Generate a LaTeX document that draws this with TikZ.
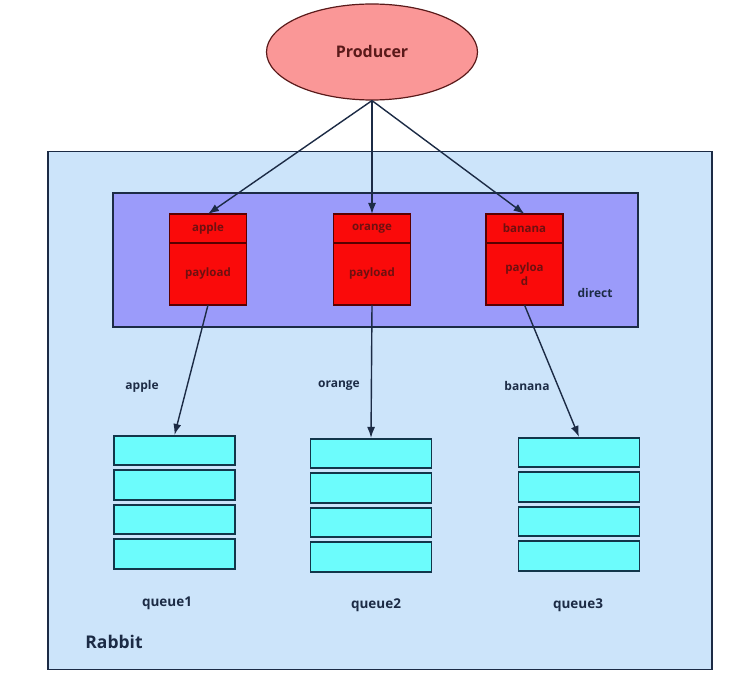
\documentclass[tikz,border=0pt]{standalone}
\usepackage{fontspec}
\setmainfont{Open Sans}
\usepackage{tikz}
\usetikzlibrary{arrows.meta, positioning, shapes.geometric}
\definecolor{navy}{HTML}{1C2B45}
\definecolor{rabbitbg}{HTML}{CCE4FA}
\definecolor{directbg}{HTML}{9B9BFA}
\definecolor{msgred}{HTML}{FA0A0A}
\definecolor{msgtext}{HTML}{6E1010}
\definecolor{prodbg}{HTML}{FA9797}
\definecolor{prodtext}{HTML}{5A1A1A}
\definecolor{qcyan}{HTML}{6CFCFC}
\definecolor{qline}{HTML}{12364A}

\begin{document}
\begin{tikzpicture}[x=1pt, y=-1pt,
      font=\bfseries\fontsize{11.5}{13.5}\selectfont,
      prod/.style={ellipse, draw=prodtext, fill=prodbg, line width=1.2pt,
        minimum width=211pt, minimum height=96pt, inner sep=0pt, text=prodtext,
        font=\bfseries\fontsize{16}{19}\selectfont},
      box/.style={rectangle, draw=navy, line width=1.5pt, minimum width=#1},
      hdr/.style={rectangle, draw=red!35!black, fill=msgred, line width=1.2pt,
        minimum width=77pt, minimum height=29pt, inner sep=0pt, outer sep=0pt,
        text=msgtext},
      body/.style={hdr, minimum height=62pt, align=center},
      qrow/.style={rectangle, draw=qline, fill=qcyan, line width=1.6pt,
        minimum width=121pt, minimum height=29.5pt, inner sep=0pt},
      lbl/.style={text=navy, inner sep=0pt, font=\bfseries\fontsize{12}{14}\selectfont},
      qlbl/.style={lbl, font=\bfseries\fontsize{13.5}{16}\selectfont},
      link/.style={-{Latex[length=11pt,width=8pt]}, line width=1.4pt, draw=navy}
    ]
      \useasboundingbox (0,0) rectangle (744,676);
      \fill[white] (0,0) rectangle (744,676);
      \node[box=664pt, fill=rabbitbg, minimum height=518pt] (rb) at (380,410.5) {};
      \node[lbl, font=\bfseries\fontsize{17.5}{20}\selectfont] (rbl) at (114,642) {Rabbit};
      \node[box=525pt, fill=directbg, minimum height=134pt] (dx) at (375.5,260) {};
      \node[lbl] (dxl) at (595,293) {direct};
      \node[prod] (p) at (372,52) {Producer};

      \node[hdr] (ka) at (208,228.5) {apple};
      \node[body, below=0pt of ka] (pa) {payload};
      \node[hdr] (ko) at (372,228.5) {orange};
      \node[body, below=0pt of ko] (po) {payload};
      \node[hdr] (kb) at (524.5,228.5) {banana};
      \node[body, below=0pt of kb] (pb) {payloa\\d};

      \node[qrow] (q1a) at (174.5,450.5) {};
      \node[qrow, below=3.4pt of q1a] (q1b) {};
      \node[qrow, below=3.4pt of q1b] (q1c) {};
      \node[qrow, below=3.4pt of q1c] (q1d) {};
      \node[qrow] (q2a) at (371,453.5) {};
      \node[qrow, below=3.4pt of q2a] (q2b) {};
      \node[qrow, below=3.4pt of q2b] (q2c) {};
      \node[qrow, below=3.4pt of q2c] (q2d) {};
      \node[qrow] (q3a) at (579,452.5) {};
      \node[qrow, below=3.4pt of q3a] (q3b) {};
      \node[qrow, below=3.4pt of q3b] (q3c) {};
      \node[qrow, below=3.4pt of q3c] (q3d) {};

      \node[qlbl] (n1) at (167,603) {queue1};
      \node[qlbl] (n2) at (376,605) {queue2};
      \node[qlbl] (n3) at (578,605) {queue3};

      \node[lbl] (la) at (142,386) {apple};
      \node[lbl] (lo) at (339,386) {orange};
      \node[lbl] (lb) at (527,386) {banana};

      \draw[link] (p.south) -- (ka.north);
      \draw[link] (p.south) -- (ko.north);
      \draw[link] (p.south) -- (kb.north);
      \draw[link] (pa.south) -- (q1a.north);
      \draw[link] (po.south) -- (q2a.north);
      \draw[link] (pb.south) -- (q3a.north);
    \end{tikzpicture}
\end{document}
